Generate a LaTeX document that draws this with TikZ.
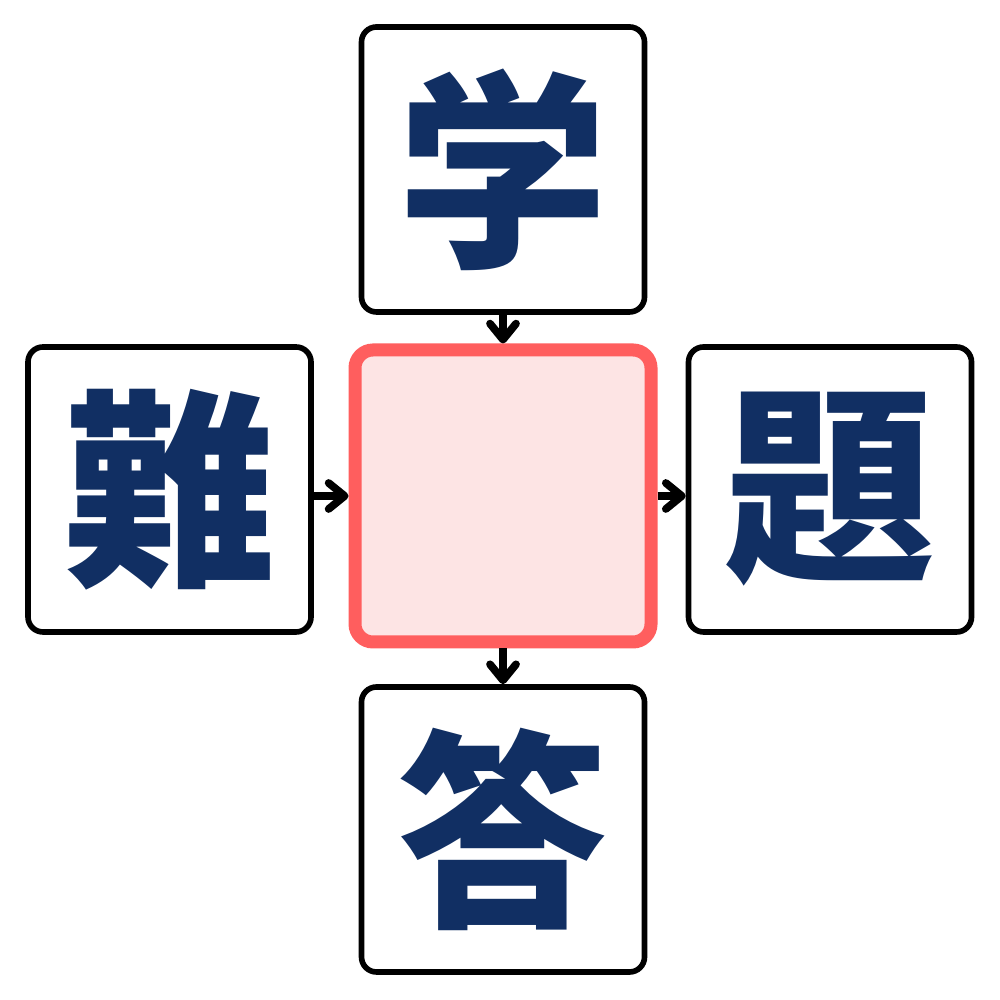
\documentclass[tikz,border=0pt]{standalone}
\usepackage{fontspec}
\newfontfamily\jpfont{Noto Sans CJK JP}
\usetikzlibrary{arrows.meta}
\definecolor{kanji}{HTML}{112F63}
\definecolor{hole}{HTML}{FF5E5E}
\definecolor{holefill}{HTML}{FDE4E4}
\begin{document}
\begin{tikzpicture}[thick, main/.style = {draw = black, rectangle, rounded corners=1.5mm, line width=1.6pt, minimum width=2.83cm, minimum height=2.85cm, text=kanji, font=\jpfont\bfseries\fontsize{60}{60}\selectfont},
            mid/.style = {draw = hole, fill = holefill, rectangle, rounded corners=1.8mm, line width=3.7pt, minimum width=2.96cm, minimum height=2.92cm},
            arr/.style = {line width=2.2pt, -{Straight Barb[length=1.6mm, width=2.6mm, round]}}
            ]
            \useasboundingbox (0,0) rectangle (10,10);
            \node[mid] (0) at (5.03, 5.04) {};
            \node[main] (1) at (5.03, 8.305) {学};
            \node[main] (2) at (1.695, 5.105) {難};
            \node[main] (3) at (8.30, 5.105) {題};
            \node[main] (4) at (5.03, 1.705) {答};

            \draw[arr] (1) -- (0);
            \draw[arr] (2.east |- 0) -- (0);
            \draw[arr] (0) -- (3.west |- 0);
            \draw[arr] (0) -- (4);
        \end{tikzpicture}
\end{document}
